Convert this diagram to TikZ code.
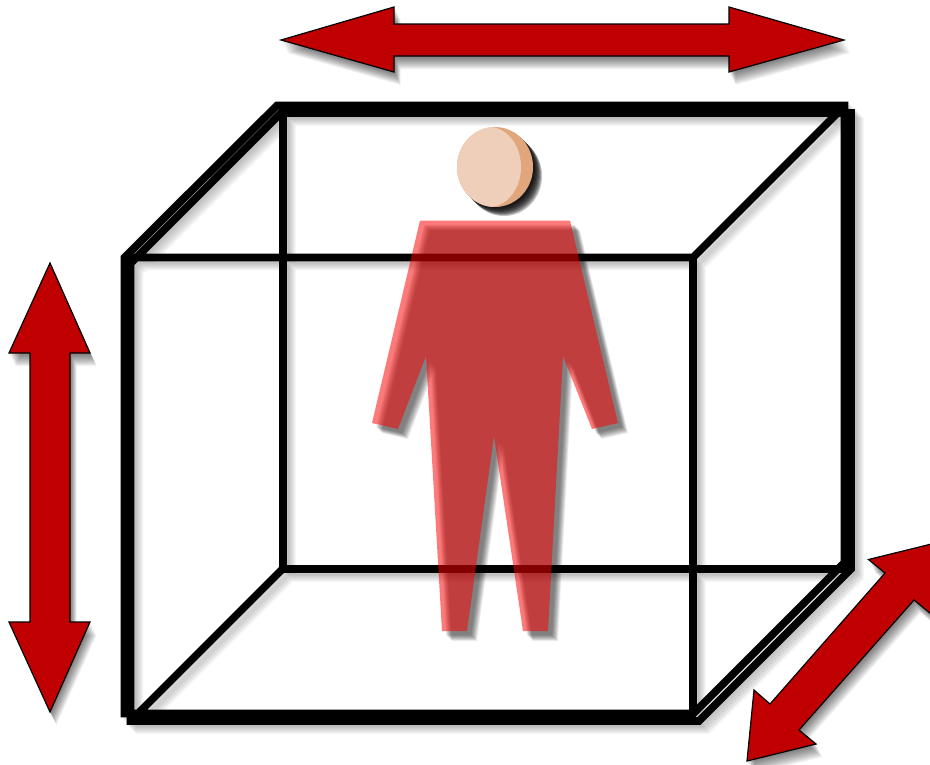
\documentclass[tikz,border=0pt]{standalone}
\definecolor{arrowred}{HTML}{C00000}
\definecolor{headlight}{HTML}{F0CFBA}
\definecolor{headdark}{HTML}{E2A67C}
\newcommand\softfill[3]{\foreach \s in {#1}{\fill[black,opacity=#2,shift={(\s,\s)}] #3;}}
\newcommand\softarrow[1]{\foreach \s in {1,2,...,13}{\fill[black,opacity=.05,shift={({\s*.5},\s)}] #1;}}
\newcommand\softline[3]{\foreach \s in {#1}{\draw[black,opacity=#2,line width=5.8pt,shift={(\s,\s)}] #3;}}
\newcommand\cubelines{%
  (124.5,257.5) -- (277,105.5) -- (844.5,105.5) -- (844.5,562.5) -- (693.5,713.5) -- (124.5,713.5) -- cycle
  (130.5,263.5) -- (281,113) -- (851,113) -- (851,569) -- (699,721) -- (130.5,721) -- cycle
  (125,257.5) -- (693,257.5) -- (693,714)
  (283,113) -- (283,569) -- (847,569)
  (693,257.5) -- (844,106.5)
  (135,716.5) -- (283,568.5)}
\newcommand\arrowtop{(281,40) -- (394,7) -- (394,24) -- (729,24) -- (729,7) -- (844,40) -- (729,72) -- (729,56) -- (394,56) -- (394,72) -- cycle}
\newcommand\arrowleft{(50,263) -- (90,353) -- (70,353) -- (70,622) -- (90,622) -- (50,712) -- (9,622) -- (30,622) -- (30,353) -- (9,353) -- cycle}
\newcommand\arrowdiag{(747,761) -- (754,690) -- (770,704) -- (885,573) -- (868.5,559.5) -- (937.5,542.5) -- (930.5,613.5) -- (914,600) -- (799,730) -- (816,744) -- cycle}
\newcommand\personshape{(420,220.5) -- (570,220.5) -- (618,423) -- (592,429) -- (563,356) -- (548,631) -- (523,631) -- (494,436) -- (467,631) -- (442,631) -- (426,356) -- (398,429) -- (372,423) -- cycle}
\tikzset{
  frameline/.style={black,line width=5.8pt,line join=miter,miter limit=10},
  bigarrow/.style={fill=arrowred,draw=black,line width=.9pt,line join=miter},
  figurefill/.style={fill={rgb,255:red,250;green,0;blue,0},fill opacity=.52}
}
\begin{document}
\begin{tikzpicture}[x=.75pt,y=-.75pt]
\clip (0,0) rectangle (930,764);
% arrow shadows
\softarrow{\arrowtop}
\softarrow{\arrowleft}
\softarrow{\arrowdiag}
% cube
\softline{2,3,4,5,6,7,8,9}{.035}{\cubelines}
\draw[frameline] \cubelines;
% arrows
\draw[bigarrow] \arrowtop;
\draw[bigarrow] \arrowleft;
\draw[bigarrow] \arrowdiag;
% head
\softfill{1,2,...,9}{.24}{(495,167) ellipse [x radius=38,y radius=40]}
\fill[headdark] (495,167) ellipse [x radius=38,y radius=40];
\begin{scope}
\clip (495,167) ellipse [x radius=38,y radius=40];
\fill[headlight] (489,167) ellipse [x radius=32,y radius=40];
\end{scope}
% figure
\softfill{4,4.5,...,10}{.052}{\personshape}
\fill[figurefill] \personshape;
\end{tikzpicture}
\end{document}
